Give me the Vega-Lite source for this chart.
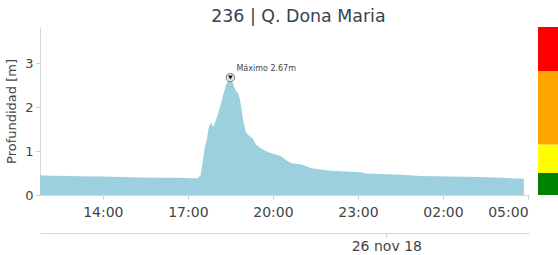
{
  "$schema": "https://vega.github.io/schema/vega-lite/v6.json",
  "background": "white",
  "padding": {"left": 5, "top": 7, "right": 0, "bottom": 0},
  "spacing": 9,
  "title": {"text": "236 | Q. Dona Maria", "font": "DejaVu Sans", "fontSize": 17.4, "fontWeight": "normal", "color": "#36434f", "anchor": "middle", "offset": 2, "dx": 16},
  "config": {"view": {"stroke": null}, "font": "DejaVu Sans"},
  "datasets": {
    "series": [
      {"t": "2018-11-25T11:47", "depth": 0.45},
      {"t": "2018-11-25T12:10", "depth": 0.44},
      {"t": "2018-11-25T12:52", "depth": 0.43},
      {"t": "2018-11-25T13:35", "depth": 0.42},
      {"t": "2018-11-25T14:00", "depth": 0.42},
      {"t": "2018-11-25T14:38", "depth": 0.41},
      {"t": "2018-11-25T15:20", "depth": 0.40},
      {"t": "2018-11-25T16:03", "depth": 0.39},
      {"t": "2018-11-25T16:45", "depth": 0.39},
      {"t": "2018-11-25T17:06", "depth": 0.38},
      {"t": "2018-11-25T17:21", "depth": 0.38},
      {"t": "2018-11-25T17:27", "depth": 0.45},
      {"t": "2018-11-25T17:32", "depth": 0.80},
      {"t": "2018-11-25T17:36", "depth": 1.10},
      {"t": "2018-11-25T17:40", "depth": 1.25},
      {"t": "2018-11-25T17:42", "depth": 1.40},
      {"t": "2018-11-25T17:45", "depth": 1.57},
      {"t": "2018-11-25T17:48", "depth": 1.62},
      {"t": "2018-11-25T17:50", "depth": 1.64},
      {"t": "2018-11-25T17:53", "depth": 1.55},
      {"t": "2018-11-25T17:55", "depth": 1.58},
      {"t": "2018-11-25T17:59", "depth": 1.70},
      {"t": "2018-11-25T18:03", "depth": 1.82},
      {"t": "2018-11-25T18:06", "depth": 1.93},
      {"t": "2018-11-25T18:10", "depth": 2.08},
      {"t": "2018-11-25T18:13", "depth": 2.21},
      {"t": "2018-11-25T18:17", "depth": 2.36},
      {"t": "2018-11-25T18:20", "depth": 2.48},
      {"t": "2018-11-25T18:23", "depth": 2.56},
      {"t": "2018-11-25T18:25", "depth": 2.60},
      {"t": "2018-11-25T18:28", "depth": 2.64},
      {"t": "2018-11-25T18:30", "depth": 2.67},
      {"t": "2018-11-25T18:33", "depth": 2.58},
      {"t": "2018-11-25T18:35", "depth": 2.55},
      {"t": "2018-11-25T18:38", "depth": 2.45},
      {"t": "2018-11-25T18:42", "depth": 2.36},
      {"t": "2018-11-25T18:46", "depth": 2.33},
      {"t": "2018-11-25T18:49", "depth": 2.22},
      {"t": "2018-11-25T18:51", "depth": 2.14},
      {"t": "2018-11-25T18:54", "depth": 1.91},
      {"t": "2018-11-25T18:58", "depth": 1.64},
      {"t": "2018-11-25T19:03", "depth": 1.42},
      {"t": "2018-11-25T19:10", "depth": 1.34},
      {"t": "2018-11-25T19:17", "depth": 1.29},
      {"t": "2018-11-25T19:24", "depth": 1.15},
      {"t": "2018-11-25T19:35", "depth": 1.06},
      {"t": "2018-11-25T19:49", "depth": 0.98},
      {"t": "2018-11-25T20:02", "depth": 0.93},
      {"t": "2018-11-25T20:17", "depth": 0.88},
      {"t": "2018-11-25T20:28", "depth": 0.79},
      {"t": "2018-11-25T20:38", "depth": 0.73},
      {"t": "2018-11-25T20:49", "depth": 0.71},
      {"t": "2018-11-25T20:59", "depth": 0.70},
      {"t": "2018-11-25T21:10", "depth": 0.66},
      {"t": "2018-11-25T21:21", "depth": 0.61},
      {"t": "2018-11-25T21:42", "depth": 0.58},
      {"t": "2018-11-25T22:03", "depth": 0.55},
      {"t": "2018-11-25T22:24", "depth": 0.54},
      {"t": "2018-11-25T22:45", "depth": 0.53},
      {"t": "2018-11-25T23:06", "depth": 0.52},
      {"t": "2018-11-25T23:17", "depth": 0.49},
      {"t": "2018-11-25T23:49", "depth": 0.48},
      {"t": "2018-11-26T00:31", "depth": 0.46},
      {"t": "2018-11-26T01:13", "depth": 0.43},
      {"t": "2018-11-26T02:17", "depth": 0.42},
      {"t": "2018-11-26T03:20", "depth": 0.41},
      {"t": "2018-11-26T04:03", "depth": 0.39},
      {"t": "2018-11-26T04:51", "depth": 0.37}
    ],
    "peak": [
      {"t": "2018-11-25T18:30", "depth": 2.67, "label": "Máximo 2.67m"}
    ],
    "levels": [
      {"lo": 0, "hi": 0.5, "level": "verde"},
      {"lo": 0.5, "hi": 1.15, "level": "amarillo"},
      {"lo": 1.15, "hi": 2.82, "level": "naranja"},
      {"lo": 2.82, "hi": 3.82, "level": "rojo"}
    ]
  },
  "hconcat": [
    {
      "width": 489,
      "height": 168,
      "resolve": {"axis": {"x": "independent"}},
      "layer": [
        {
          "data": {"name": "series"},
          "mark": {"type": "area", "color": "#9dd0de"},
          "encoding": {
            "x": {"field": "t", "type": "temporal",
              "scale": {"domain": [{"year": 2018, "month": "nov", "date": 25, "hours": 11, "minutes": 47}, {"year": 2018, "month": "nov", "date": 26, "hours": 5, "minutes": 2}], "nice": false},
              "axis": {"title": null, "orient": "bottom", "format": "%H:%M", "grid": false,
                "values": [{"year": 2018, "month": "nov", "date": 25, "hours": 14}, {"year": 2018, "month": "nov", "date": 25, "hours": 17}, {"year": 2018, "month": "nov", "date": 25, "hours": 20}, {"year": 2018, "month": "nov", "date": 25, "hours": 23}, {"year": 2018, "month": "nov", "date": 26, "hours": 2}, {"year": 2018, "month": "nov", "date": 26, "hours": 5}],
                "domainColor": "#d3d7db", "tickColor": "#c8ccd0", "tickSize": 4, "labelFontSize": 14, "labelColor": "#444", "labelPadding": 6, "labelFont": "DejaVu Sans"}},
            "y": {"field": "depth", "type": "quantitative",
              "scale": {"domain": [0, 3.82], "nice": false, "zero": true},
              "axis": {"title": "Profundidad [m]", "values": [0, 1, 2, 3], "grid": false, "domainColor": "#d3d7db", "tickColor": "#c8ccd0", "tickSize": 4, "labelFontSize": 13, "labelColor": "#444", "labelPadding": 3, "titleFontSize": 13, "titleFontWeight": "normal", "titleColor": "#444", "titlePadding": 6, "labelFont": "DejaVu Sans", "titleFont": "DejaVu Sans"}}
          }
        },
        {
          "data": {"name": "peak"},
          "mark": {"type": "point", "shape": "circle", "filled": true, "fill": "#e6e6e6", "stroke": "#7a7a7a", "strokeWidth": 1, "size": 70, "opacity": 1},
          "encoding": {
            "x": {"field": "t", "type": "temporal",
              "axis": {"title": null, "orient": "bottom", "offset": 38, "grid": false, "domainColor": "#d3d7db", "tickColor": "#c8ccd0", "tickSize": 4,
                "values": [{"year": 2018, "month": "nov", "date": 26, "hours": 0}],
                "labelExpr": "lower(timeFormat(datum.value, '%d %b %y'))", "labelFontSize": 14, "labelColor": "#444", "labelPadding": 2, "labelFont": "DejaVu Sans"}},
            "y": {"field": "depth", "type": "quantitative"}
          }
        },
        {
          "data": {"name": "peak"},
          "mark": {"type": "point", "shape": "triangle-down", "filled": true, "color": "#111111", "size": 22, "opacity": 1},
          "encoding": {
            "x": {"field": "t", "type": "temporal", "axis": null},
            "y": {"field": "depth", "type": "quantitative"}
          }
        },
        {
          "data": {"name": "peak"},
          "mark": {"type": "text", "align": "left", "baseline": "middle", "dx": 6, "dy": -9, "fontSize": 8, "color": "#444", "font": "DejaVu Sans"},
          "encoding": {
            "x": {"field": "t", "type": "temporal", "axis": null},
            "y": {"field": "depth", "type": "quantitative"},
            "text": {"field": "label"}
          }
        }
      ]
    },
    {
      "width": 21,
      "height": 168,
      "data": {"name": "levels"},
      "mark": {"type": "rect"},
      "encoding": {
        "y": {"field": "lo", "type": "quantitative", "scale": {"domain": [0, 3.82], "nice": false}, "axis": null},
        "y2": {"field": "hi"},
        "color": {"field": "level", "type": "nominal", "legend": null,
          "scale": {"domain": ["verde", "amarillo", "naranja", "rojo"], "range": ["#008000", "#ffff00", "#ffa500", "#ff0000"]}}
      }
    }
  ]
}
